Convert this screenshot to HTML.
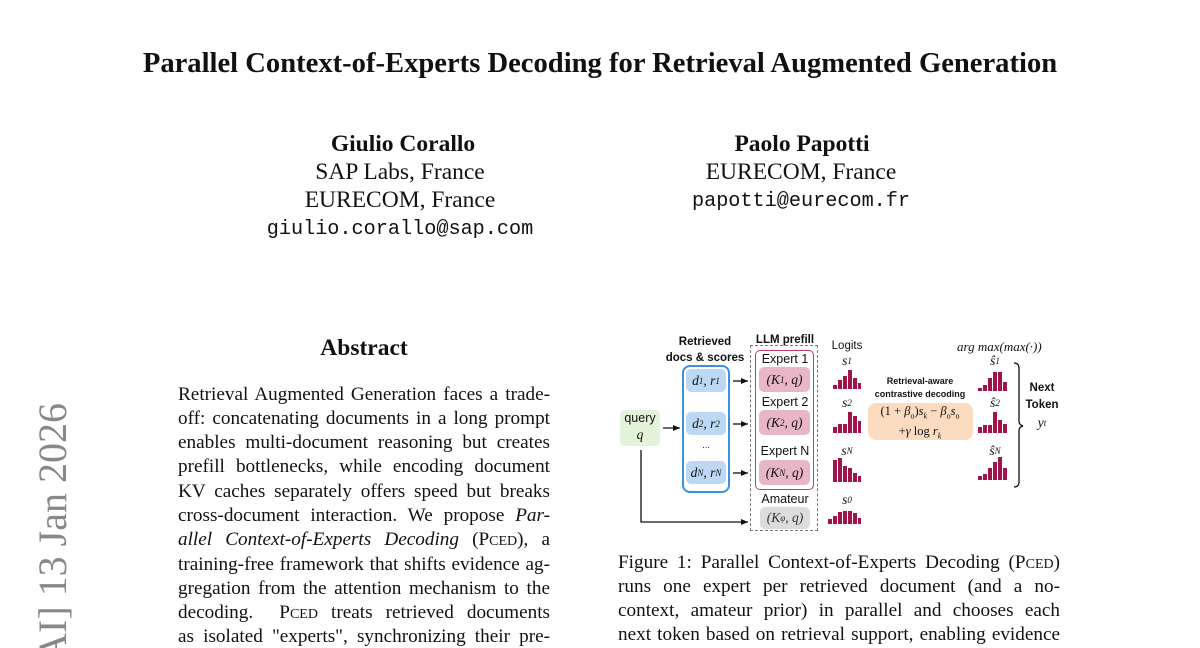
<!DOCTYPE html>
<html><head><meta charset="utf-8"><style>
body{margin:0;width:1200px;height:648px;overflow:hidden;background:#fff;font-family:"Liberation Serif",serif;color:#111;position:relative}
.a{position:absolute;white-space:nowrap}
.c{transform:translateX(-50%)}
.t{font-size:23.5px;text-align:center}
.mono{font-family:"Liberation Mono",monospace;font-size:20.2px}
.L{position:absolute;font-size:19.2px;line-height:22px;height:22px;text-align:justify;text-align-last:justify;white-space:nowrap;overflow:hidden}
.ab{left:178px;width:372px}
.cp{left:618px;width:442px}
.sc{font-size:14px}
.box{position:absolute;box-sizing:border-box}
.lbl{position:absolute;font-family:"Liberation Sans",sans-serif;font-size:12.5px;transform:translateX(-50%);white-space:nowrap}
.m{position:absolute;font-family:"Liberation Serif",serif;font-style:italic;font-size:13.5px;display:flex;align-items:center;justify-content:center;border-radius:5px}
.m sub{font-size:9px;vertical-align:-3px}
</style></head><body>
<div class="a c" style="left:600px;top:48px;font-size:28.6px;font-weight:bold">Parallel Context-of-Experts Decoding for Retrieval Augmented Generation</div>

<div class="a c t" style="left:403px;top:131px;font-weight:bold">Giulio Corallo</div>
<div class="a c t" style="left:400px;top:159px">SAP Labs, France</div>
<div class="a c t" style="left:400px;top:187px">EURECOM, France</div>
<div class="a c mono" style="left:400px;top:218px">giulio.corallo@sap.com</div>
<div class="a c t" style="left:802px;top:131px;font-weight:bold">Paolo Papotti</div>
<div class="a c t" style="left:801px;top:159px">EURECOM, France</div>
<div class="a c mono" style="left:801px;top:190px">papotti@eurecom.fr</div>

<div class="a c" style="left:364px;top:335px;font-size:23.5px;font-weight:bold">Abstract</div>
<div class="L ab" style="top:384px">Retrieval Augmented Generation faces a trade-</div>
<div class="L ab" style="top:408px">off: concatenating documents in a long prompt</div>
<div class="L ab" style="top:432px">enables multi-document reasoning but creates</div>
<div class="L ab" style="top:456px">prefill bottlenecks, while encoding document</div>
<div class="L ab" style="top:481px">KV caches separately offers speed but breaks</div>
<div class="L ab" style="top:505px">cross-document interaction. We propose <i>Par-</i></div>
<div class="L ab" style="top:529px"><i>allel Context-of-Experts Decoding</i> (P<span class="sc">CED</span>), a</div>
<div class="L ab" style="top:554px">training-free framework that shifts evidence ag-</div>
<div class="L ab" style="top:578px">gregation from the attention mechanism to the</div>
<div class="L ab" style="top:602px">decoding. &nbsp;P<span class="sc">CED</span> treats retrieved documents</div>
<div class="L ab" style="top:626px">as isolated "experts", synchronizing their pre-</div>

<div class="L cp" style="top:552px">Figure 1: Parallel Context-of-Experts Decoding (P<span class="sc">CED</span>)</div>
<div class="L cp" style="top:576px">runs one expert per retrieved document (and a no-</div>
<div class="L cp" style="top:600px">context, amateur prior) in parallel and chooses each</div>
<div class="L cp" style="top:624px">next token based on retrieval support, enabling evidence</div>

<svg class="a" style="left:0;top:0" width="1200" height="648">
<text transform="translate(66,403) rotate(-90)" text-anchor="end" font-family="Liberation Serif" font-size="40" fill="#888">[cs.AI]  13 Jan 2026</text>
</svg>

<div class="lbl" style="left:705px;top:334px;font-weight:bold;font-size:11.5px;text-align:center;line-height:16px">Retrieved<br>docs &amp; scores</div>
<div class="lbl" style="left:785px;top:334px;font-weight:bold;font-size:11.5px">LLM prefill</div>
<div class="lbl" style="left:847px;top:340px;font-size:11.5px">Logits</div>

<div class="box" style="left:620px;top:410px;width:40px;height:36px;background:#e2f3da;border-radius:5px"></div>
<div class="lbl" style="left:640px;top:411px;font-size:12.5px">query</div>
<div class="m" style="left:630px;top:427px;width:20px;height:16px">q</div>

<div class="box" style="left:682px;top:365px;width:48px;height:128px;border:2px solid #3d8fe0;border-radius:8px"></div>
<div class="m" style="left:686px;top:369px;width:40px;height:23px;background:#bcd8f3">d<sub>1</sub>, r<sub>1</sub></div>
<div class="m" style="left:686px;top:412px;width:40px;height:23px;background:#bcd8f3">d<sub>2</sub>, r<sub>2</sub></div>
<div class="lbl" style="left:706px;top:440px;font-size:9px">...</div>
<div class="m" style="left:686px;top:461px;width:40px;height:23px;background:#bcd8f3">d<sub>N</sub>, r<sub>N</sub></div>

<div class="box" style="left:750px;top:345px;width:68px;height:186px;border:1.5px dashed #777"></div>
<div class="box" style="left:755px;top:350px;width:59px;height:140px;border:1.5px solid #c43a70;border-radius:5px"></div>
<div class="lbl" style="left:785px;top:352px">Expert 1</div>
<div class="m" style="left:759px;top:367px;width:51px;height:25px;background:#e8b6c7">(K<sub>1</sub>, q)</div>
<div class="lbl" style="left:785px;top:395px">Expert 2</div>
<div class="m" style="left:759px;top:410px;width:51px;height:25px;background:#e8b6c7">(K<sub>2</sub>, q)</div>
<div class="lbl" style="left:785px;top:444px">Expert N</div>
<div class="m" style="left:759px;top:460px;width:51px;height:25px;background:#e8b6c7">(K<sub>N</sub>, q)</div>
<div class="lbl" style="left:785px;top:492px">Amateur</div>
<div class="m" style="left:760px;top:507px;width:50px;height:22px;background:#dcdcdc;color:#333">(K<sub>φ</sub>, q)</div>

<div class="m" style="left:837px;top:354px;width:20px;height:14px">s<sub>1</sub></div>
<div class="m" style="left:837px;top:396px;width:20px;height:14px">s<sub>2</sub></div>
<div class="m" style="left:837px;top:444px;width:20px;height:14px">s<sub>N</sub></div>
<div class="m" style="left:837px;top:493px;width:20px;height:14px">s<sub>0</sub></div>

<div class="lbl" style="left:920px;top:375px;font-size:9px;font-weight:bold;text-align:center;line-height:13px">Retrieval-aware<br>contrastive decoding</div>
<div class="box" style="left:868px;top:403px;width:105px;height:37px;background:#fcdcc0;border-radius:8px"></div>
<div class="a c" style="left:920px;top:404px;font-size:12.5px;text-align:center;line-height:15px">(1 + <i>β</i><sub style="font-size:8px">o</sub>)<i>s<sub style="font-size:8px">k</sub></i> − <i>β</i><sub style="font-size:8px">o</sub><i>s</i><sub style="font-size:8px">o</sub><br>+<i>γ</i> log <i>r<sub style="font-size:8px">k</sub></i></div>

<div class="a" style="left:957px;top:339px;font-size:13px;font-style:italic">arg max(max(·))</div>
<div class="m" style="left:985px;top:354px;width:20px;height:14px">ŝ<sub>1</sub></div>
<div class="m" style="left:985px;top:396px;width:20px;height:14px">ŝ<sub>2</sub></div>
<div class="m" style="left:985px;top:444px;width:20px;height:14px">ŝ<sub>N</sub></div>
<div class="lbl" style="left:1042px;top:380px;font-size:11.5px;font-weight:bold;text-align:center;line-height:17px">Next<br>Token</div>
<div class="m" style="left:1032px;top:415px;width:20px;height:16px">y<sub>t</sub></div>

<svg class="a" style="left:0;top:0" width="1200" height="648">
<defs><marker id="ar" markerWidth="8" markerHeight="8" refX="7" refY="4" orient="auto" markerUnits="userSpaceOnUse"><path d="M0,1 L7,4 L0,7z" fill="#111"/></marker></defs>
<g stroke="#111" stroke-width="1.3" fill="none">
<line x1="663" y1="428" x2="680" y2="428" marker-end="url(#ar)"/>
<line x1="733" y1="381" x2="748" y2="381" marker-end="url(#ar)"/>
<line x1="733" y1="424" x2="748" y2="424" marker-end="url(#ar)"/>
<line x1="733" y1="473" x2="748" y2="473" marker-end="url(#ar)"/>
<polyline points="641,450 641,522 748,522" marker-end="url(#ar)"/>
<path d="M1014,363 q5,0 5,5 v53 q0,4 4,5 q-4,1 -4,5 v51 q0,5 -5,5"/>
</g>
<g fill="#a0144b">
<rect x="833" y="385" width="4" height="4"/><rect x="838" y="380" width="4" height="9"/><rect x="843" y="376" width="4" height="13"/><rect x="848" y="370" width="4" height="19"/><rect x="853" y="378" width="4" height="11"/><rect x="858" y="383" width="3" height="6"/>
<rect x="833" y="427" width="4" height="6"/><rect x="838" y="424" width="4" height="9"/><rect x="843" y="424" width="4" height="9"/><rect x="848" y="412" width="4" height="21"/><rect x="853" y="416" width="4" height="17"/><rect x="858" y="421" width="3" height="12"/>
<rect x="833" y="460" width="4" height="22"/><rect x="838" y="458" width="4" height="24"/><rect x="843" y="466" width="4" height="16"/><rect x="848" y="468" width="4" height="14"/><rect x="853" y="473" width="4" height="9"/><rect x="858" y="476" width="3" height="6"/>
<rect x="828" y="519" width="4" height="5"/><rect x="833" y="516" width="4" height="8"/><rect x="838" y="512" width="4" height="12"/><rect x="843" y="511" width="4" height="13"/><rect x="848" y="511" width="4" height="13"/><rect x="853" y="513" width="4" height="11"/><rect x="858" y="518" width="3" height="6"/>
<rect x="978" y="388" width="4" height="3"/><rect x="983" y="385" width="4" height="6"/><rect x="988" y="378" width="4" height="13"/><rect x="993" y="372" width="4" height="19"/><rect x="998" y="372" width="4" height="19"/><rect x="1003" y="382" width="4" height="9"/>
<rect x="978" y="427" width="4" height="6"/><rect x="983" y="425" width="4" height="8"/><rect x="988" y="425" width="4" height="8"/><rect x="993" y="412" width="4" height="21"/><rect x="998" y="420" width="4" height="13"/><rect x="1003" y="424" width="4" height="9"/>
<rect x="978" y="476" width="4" height="4"/><rect x="983" y="474" width="4" height="6"/><rect x="988" y="468" width="4" height="12"/><rect x="993" y="462" width="4" height="18"/><rect x="998" y="457" width="4" height="23"/><rect x="1003" y="468" width="4" height="12"/>
</g>
</svg>
</body></html>
